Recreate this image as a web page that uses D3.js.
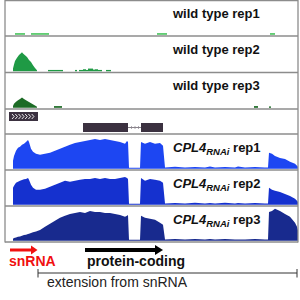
<!DOCTYPE html>
<html><head><meta charset="utf-8">
<script src="https://cdn.jsdelivr.net/npm/d3@7"></script>
<style>html,body{margin:0;padding:0;background:#fff;}svg{display:block;}</style>
</head><body>
<svg id="c" width="300" height="300"></svg>
<script>
// ---- data (genomic position in bp, coverage in relative units 0-100) ----
const trackNames = ["wild type rep1","wild type rep2","wild type rep3"];
const rnaiReps = ["rep1","rep2","rep3"];

// wild type: peak profiles
const wt2PeakPos = [80,90,100,120,140,160,170,180,200,220,240,260,280,300,320];
const wt2PeakVal = [8,20,30,40,48,53,56,52,47,42,33,27,18,10,3];
const wt3PeakPos = [80,90,110,130,150,170,190,210,240,270,300,320];
const wt3PeakVal = [5,12,18,22,26,30,26,22,17,12,7,3];
// wild type: small read blocks [start, end, value]
const wt1Blocks = [[100,200,5],[260,440,5],[1520,1620,5],[2650,2700,5]];
const wt2Blocks = [[430,580,4],[700,720,4],[740,780,4],[780,810,6],[810,830,4],[830,880,8],[880,900,5],[900,930,6],[930,970,4],[1010,1060,4]];
const wt3Blocks = [[490,570,5],[2490,2530,5],[2640,2660,4]];

// CPL4 RNAi coverage
const rnaiPos = [80,90,110,130,150,170,190,210,230,240,260,280,310,350,400,450,500,550,600,650,700,750,800,850,900,950,1000,1050,1100,1150,1200,1220,1230,1240,1350,1360,1400,1450,1500,1550,1580,1600,1700,1800,1900,2000,2050,2100,2200,2300,2330,2400,2500,2600,2630,2640,2670,2700,2750,2800,2850,2900,2920,2930];
const rnai1Val = [24,38,53,62,65,71,74,79,85,79,59,50,44,41,44,47,53,59,65,71,76,79,82,85,88,85,88,85,82,79,74,82,79,3,3,79,74,79,74,76,68,4,6,4,5,4,7,4,5,4,7,4,5,4,4,47,44,38,32,29,21,15,9,6];
const rnai2Val = [50,56,65,68,71,73,75,76,79,74,59,50,44,44,47,53,59,65,71,68,71,74,76,76,79,76,79,76,76,79,82,79,76,3,3,79,71,76,74,71,65,4,5,4,6,4,5,4,6,4,5,4,5,4,4,50,44,41,38,32,26,18,12,8];
const rnai3Val = [6,8,10,12,13,15,17,18,20,21,23,25,27,32,41,50,59,68,74,79,82,85,82,88,85,85,82,82,79,76,71,74,76,3,3,74,68,65,62,53,47,4,5,4,5,4,5,4,5,4,4,4,5,4,4,85,88,94,88,79,71,53,41,30];

// gene features (bp)
const snRNA = [40,330];
const exons = [[780,1230],[1360,1580]];
const proteinCoding = [800,1580];
const extension = [330,2920];
const regionBp = [0,2930];

// ---- drawing ----
const svg = d3.select("#c");
const x = d3.scaleLinear().domain(regionBp).range([5,298]);
const font = "'Liberation Sans', Arial, sans-serif";

const tracks = [
  {top:0, h:36, color:"#52c765", label:[{t:trackNames[0]}], peak:null, blocks:wt1Blocks},
  {top:36, h:36.5, color:"#1f9a45", label:[{t:trackNames[1]}], peak:[wt2PeakPos,wt2PeakVal], blocks:wt2Blocks},
  {top:72.5, h:36.5, color:"#1c6b25", label:[{t:trackNames[2]}], peak:[wt3PeakPos,wt3PeakVal], blocks:wt3Blocks},
  {top:134, h:36, color:"#1d46f2", rnai:0, cov:rnai1Val},
  {top:170, h:36, color:"#1531cf", rnai:1, cov:rnai2Val},
  {top:206, h:36, color:"#182a8e", rnai:2, cov:rnai3Val}
];

tracks.forEach(tr => {
  const base = tr.top + tr.h - 1.2;
  const y = d3.scaleLinear().domain([0,100]).range([base, base-34]);
  const g = svg.append("g");
  if (tr.peak) {
    const pts = tr.peak[0].map((p,i)=>[p,tr.peak[1][i]]);
    g.append("path").datum(pts)
      .attr("d", d3.area().x(d=>x(d[0])).y0(base).y1(d=>y(d[1])))
      .attr("fill", tr.color);
  }
  if (tr.blocks) {
    g.selectAll("rect").data(tr.blocks).join("rect")
      .attr("x", d=>x(d[0])).attr("width", d=>x(d[1])-x(d[0]))
      .attr("y", d=>y(d[2])).attr("height", d=>base-y(d[2]))
      .attr("fill", tr.color);
  }
  if (tr.cov) {
    const pts = rnaiPos.map((p,i)=>[p,tr.cov[i]]);
    g.append("path").datum(pts)
      .attr("d", d3.area().x(d=>x(d[0])).y0(base).y1(d=>y(d[1])))
      .attr("fill", tr.color);
  }
  const t = g.append("text").attr("x",173).attr("y",tr.top+17.5)
    .attr("font-family",font).attr("font-weight","bold").attr("font-size",13).attr("fill","#111");
  if (tr.rnai === undefined) {
    t.text(tr.label[0].t);
  } else {
    t.append("tspan").attr("font-style","italic").text("CPL4");
    t.append("tspan").attr("font-style","italic").attr("font-size",9.5).attr("dy",3).text("RNAi");
    t.append("tspan").attr("dy",-3).text(" " + rnaiReps[tr.rnai]);
  }
});

// gene track
const gTop = 109;
const gene = svg.append("g");
const geneColor = "#3b3140";
gene.append("rect").attr("x",x(snRNA[0])).attr("y",gTop+3).attr("width",x(snRNA[1])-x(snRNA[0])).attr("height",9).attr("fill",geneColor);
const nCh = 7;
d3.range(nCh).forEach(i=>{
  const cx = x(snRNA[0]) + 3 + i*((x(snRNA[1])-x(snRNA[0])-6)/nCh);
  gene.append("path").attr("d",`M${cx},${gTop+5} l2.2,2.5 l-2.2,2.5`).attr("fill","none").attr("stroke","#fff").attr("stroke-width",0.9);
});
gene.append("line").attr("x1",x(exons[0][1])).attr("x2",x(exons[1][0])).attr("y1",gTop+18.5).attr("y2",gTop+18.5).attr("stroke","#8a848c").attr("stroke-width",1);
d3.range(3).forEach(i=>{
  const cx = x(exons[0][1]) + 3 + i*3.5;
  gene.append("path").attr("d",`M${cx},${gTop+17} l1.5,1.5 l-1.5,1.5`).attr("fill","none").attr("stroke","#8a848c").attr("stroke-width",0.7);
});
exons.forEach(e=>{
  gene.append("rect").attr("x",x(e[0])).attr("y",gTop+14).attr("width",x(e[1])-x(e[0])).attr("height",9).attr("fill",geneColor);
});

// separators & frame
const lineColor = "#8c8c8c";
[0.5,36,72.5,109,134,170,206,242].forEach(yy=>{
  svg.append("line").attr("x1",5).attr("x2",298).attr("y1",yy).attr("y2",yy).attr("stroke",lineColor).attr("stroke-width",1.3);
});
svg.append("line").attr("x1",5).attr("x2",5).attr("y1",0).attr("y2",242.6).attr("stroke",lineColor).attr("stroke-width",1.3);
svg.append("line").attr("x1",298).attr("x2",298).attr("y1",0).attr("y2",242.6).attr("stroke",lineColor).attr("stroke-width",1.3);

// annotations
const ann = svg.append("g");
// red snRNA arrow
ann.append("line").attr("x1",x(snRNA[0])+1).attr("x2",x(snRNA[1])-6).attr("y1",250).attr("y2",250).attr("stroke","#f01010").attr("stroke-width",3);
ann.append("path").attr("d",`M${x(snRNA[1])-7},245.5 L${x(snRNA[1])-0.5},250 L${x(snRNA[1])-7},254.5 Z`).attr("fill","#f01010");
ann.append("text").attr("x",9).attr("y",266).attr("font-family",font).attr("font-weight","bold").attr("font-size",14).attr("fill","#f01010").text("snRNA");
// black protein-coding arrow
ann.append("line").attr("x1",x(proteinCoding[0])).attr("x2",x(proteinCoding[1])-7).attr("y1",250).attr("y2",250).attr("stroke","#000").attr("stroke-width",4);
ann.append("path").attr("d",`M${x(proteinCoding[1])-8},245 L${x(proteinCoding[1])},250 L${x(proteinCoding[1])-8},255 Z`).attr("fill","#000");
ann.append("text").attr("x",87).attr("y",266).attr("font-family",font).attr("font-weight","bold").attr("font-size",14).attr("fill","#111").text("protein-coding");
// extension bracket
ann.append("line").attr("x1",x(extension[0])).attr("x2",x(extension[1])).attr("y1",273).attr("y2",273).attr("stroke","#333").attr("stroke-width",1);
[extension[0],extension[1]].forEach(p=>{
  ann.append("line").attr("x1",x(p)).attr("x2",x(p)).attr("y1",269).attr("y2",277.5).attr("stroke","#333").attr("stroke-width",1);
});
ann.append("text").attr("x",47).attr("y",287).attr("font-family",font).attr("font-size",14).attr("fill","#222").text("extension from snRNA");
</script>
</body></html>
